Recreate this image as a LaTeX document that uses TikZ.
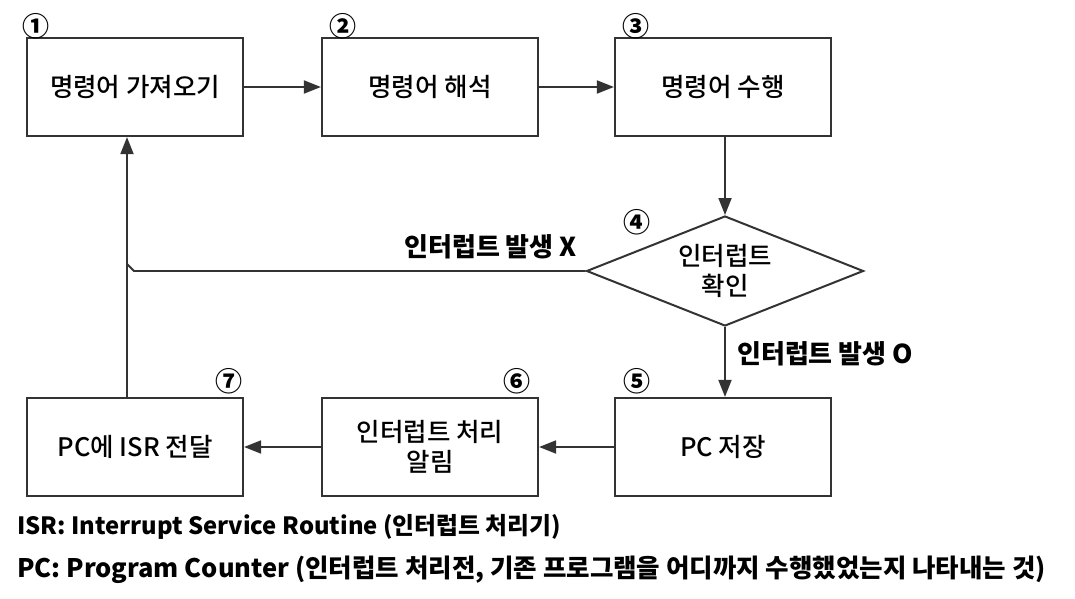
\documentclass[tikz,border=0pt]{standalone}
\usepackage{fontspec}
\setmainfont{Noto Sans CJK KR}
\newfontfamily\medfont{Noto Sans CJK KR Medium}
\usetikzlibrary{arrows.meta,shapes.geometric}
\tikzset{
  stepbox/.style={draw=black!80,line width=2.2pt,fill=white,minimum width=216pt,minimum height=98pt,inner sep=0pt,align=center,font=\medfont\fontsize{25.5}{30}\selectfont},
  decbox/.style={draw=black!80,line width=2pt,fill=white,diamond,aspect=2.5,minimum width=277pt,minimum height=110pt,inner sep=0pt,align=center,font=\medfont\fontsize{25.5}{30}\selectfont},
  conn/.style={draw=black!80,line width=1.8pt,-{Triangle[length=17pt,width=13pt]}},
  plain/.style={draw=black!80,line width=1.8pt},
  num/.style={font=\fontsize{27}{27}\selectfont\bfseries,inner sep=0pt},
  lbl/.style={font=\fontsize{26}{26}\selectfont\bfseries,inner sep=0pt},
  foot/.style={inner sep=0pt,anchor=west}
}
\begin{document}
\begin{tikzpicture}[x=1pt,y=-1pt]
\useasboundingbox[fill=white] (0,0) rectangle (1075,599);
\node[stepbox] (s1) at (135,87) {명령어 가져오기};
\node[stepbox] (s2) at (430,87) {명령어 해석};
\node[stepbox] (s3) at (723,87) {명령어 수행};
\node[decbox] (d4) at (725,271) {인터럽트\\확인};
\node[stepbox] (s5) at (723,447) {PC 저장};
\node[stepbox] (s6) at (430,447) {인터럽트 처리\\알림};
\node[stepbox] (s7) at (135,447) {PC에 ISR 전달};
\node[num] (n1) at (36,26) {①};
\node[num] (n2) at (343,26) {②};
\node[num] (n3) at (636,26) {③};
\node[num] (n4) at (637,222) {④};
\node[num] (n5) at (637,381) {⑤};
\node[num] (n6) at (517,381) {⑥};
\node[num] (n7) at (229,381) {⑦};
\draw[conn] (s1) -- (s2);
\draw[conn] (s2) -- (s3);
\draw[conn] (s3.south -| d4.north) -- (d4.north);
\draw[conn] (d4.south) -- (s5.north -| d4.south);
\draw[conn] (s5) -- (s6);
\draw[conn] (s6) -- (s7);
\draw[conn] (s7.north -| 127,0) -- (s1.south -| 127,0);
\coordinate (j1) at (134,271);
\coordinate (j2) at (127,264);
\draw[plain] (d4.west) -- (j1) -- (j2);
\node[lbl,anchor=east] (lx) at (577,247) {인터럽트 발생 X};
\node[lbl,anchor=west] (lo) at (737,354) {인터럽트 발생 O};
\node[foot,font=\fontsize{23.8}{24}\selectfont\bfseries] (f1) at (17,527) {ISR: Interrupt Service Routine (인터럽트 처리기)};
\node[foot,font=\fontsize{25.5}{25}\selectfont\bfseries] (f2) at (17,570) {PC: Program Counter (인터럽트 처리전, 기존 프로그램을 어디까지 수행했었는지 나타내는 것)};
\end{tikzpicture}
\end{document}
